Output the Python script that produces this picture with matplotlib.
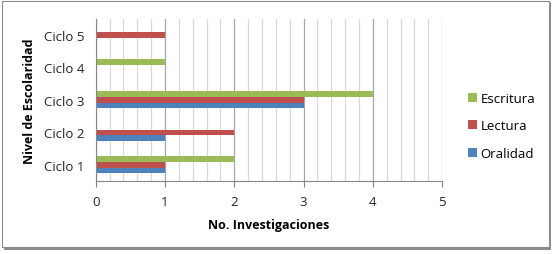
import matplotlib.pyplot as plt
import matplotlib
import numpy as np
from matplotlib.patches import Rectangle
from matplotlib.ticker import MultipleLocator

matplotlib.rcParams['font.family'] = ['Open Sans', 'DejaVu Sans']

ciclos = ['Ciclo 1', 'Ciclo 2', 'Ciclo 3', 'Ciclo 4', 'Ciclo 5']
oralidad = [1, 1, 3, 0, 0]
lectura = [1, 2, 3, 0, 1]
escritura = [2, 0, 4, 1, 0]
xticks = [0, 1, 2, 3, 4, 5]

f = plt.figure(figsize=(5.54, 2.55), dpi=100, facecolor='white')
ax = f.add_axes([0.1727, 0.2863, 0.6255, 0.637])

y = np.arange(len(ciclos))
h = 0.17
ax.barh(y - h, oralidad, height=h, color='#4F81BD', label='Oralidad')
ax.barh(y, lectura, height=h, color='#C0504D', label='Lectura')
ax.barh(y + h, escritura, height=h, color='#9BBB59', label='Escritura')

ax.set_xlim(0, 5)
ax.set_ylim(-0.5, 4.5)
ax.set_xticks(xticks)
ax.xaxis.set_minor_locator(MultipleLocator(0.2))
ax.set_yticks(y)
ax.set_yticklabels(ciclos)
ax.grid(axis='x', which='major', color='#a6a6a6', linewidth=0.9)
ax.grid(axis='x', which='minor', color='#d9d9d9', linewidth=0.9)
ax.set_axisbelow(True)

for s in ['top', 'right']:
    ax.spines[s].set_visible(False)
ax.spines['left'].set_color('#868686')
ax.spines['bottom'].set_color('#868686')
ax.tick_params(axis='x', which='major', length=4, color='#868686', labelsize=9.5, pad=6)
ax.tick_params(axis='x', which='minor', length=0)
ax.tick_params(axis='y', length=0, labelsize=9.5, pad=8)
for lbl in ax.get_xticklabels() + ax.get_yticklabels():
    lbl.set_color('#262626')

ax.set_xlabel('No. Investigaciones', fontsize=9, fontweight='bold', labelpad=7)
ax.set_ylabel('Nivel de Escolaridad', fontsize=9, fontweight='bold', labelpad=6)

handles, labels = ax.get_legend_handles_labels()
leg = ax.legend(handles[::-1], labels[::-1], loc='center left', bbox_to_anchor=(1.04, 0.34),
                frameon=False, fontsize=9.5, handlelength=0.65, handleheight=0.65,
                handletextpad=0.3, labelspacing=1.1)

# border of the chart area, with shadow on right and bottom
f.patches.append(Rectangle((4 / 554, 4 / 255), 547 / 554, 248 / 255, transform=f.transFigure,
                           facecolor='#8c8c8c', edgecolor='none', zorder=-3))
f.patches.append(Rectangle((2 / 554, 7 / 255), 547 / 554, 246 / 255, transform=f.transFigure,
                           facecolor='white', edgecolor='#8c8c8c', linewidth=0.8, zorder=-2))

f.savefig('out.png', dpi=100)
